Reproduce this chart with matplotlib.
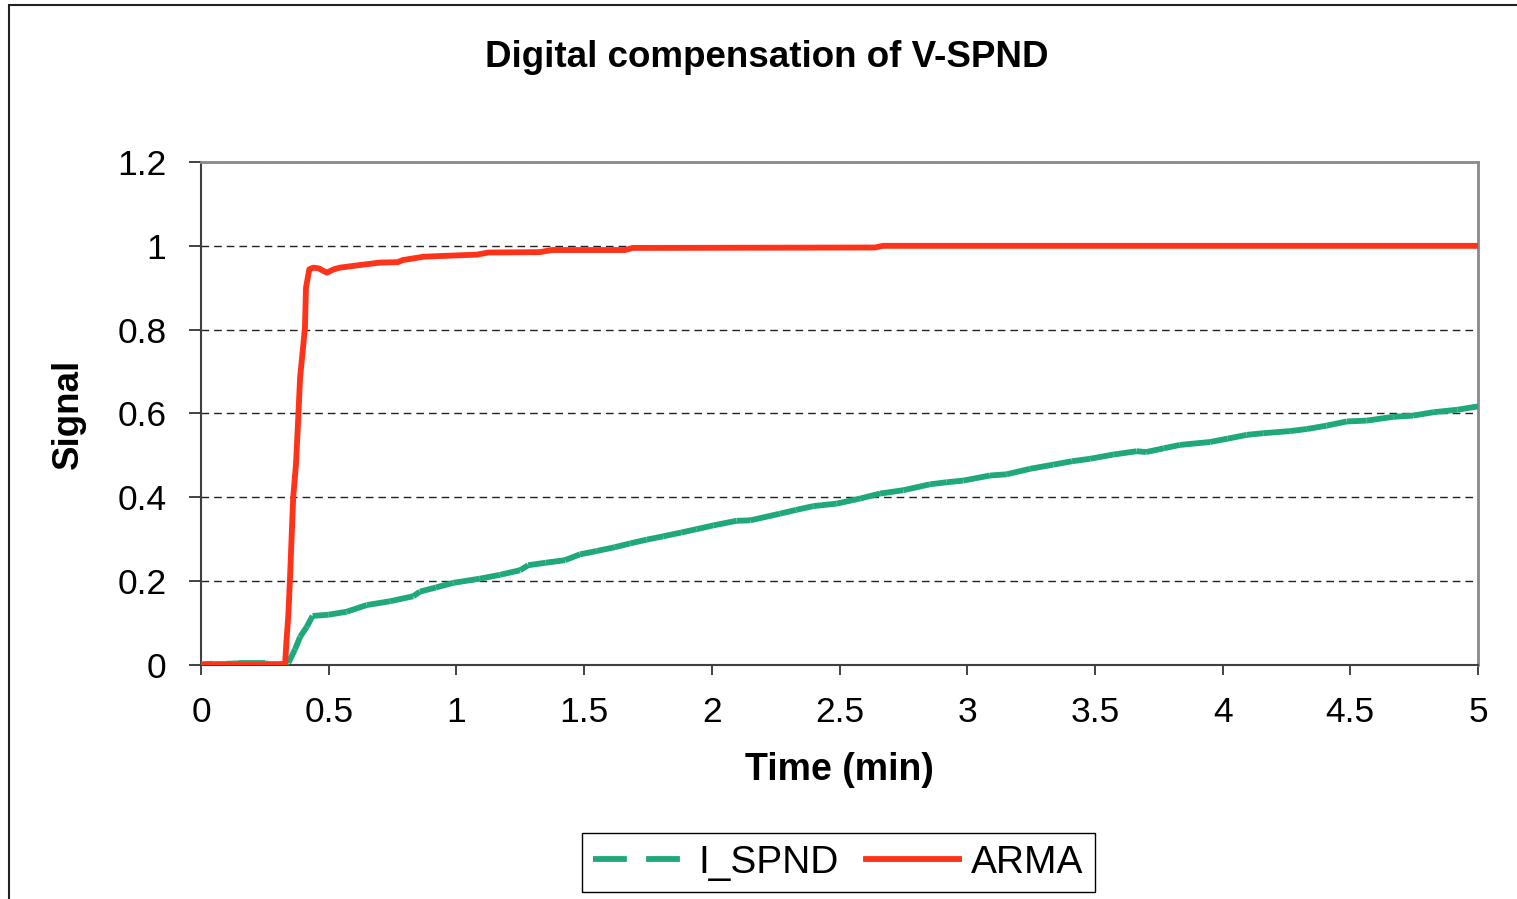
import numpy as np
import matplotlib
matplotlib.use('Agg')
import matplotlib.pyplot as plt
from matplotlib.collections import LineCollection
from matplotlib.lines import Line2D
from matplotlib.patches import Rectangle

plt.rcParams['font.family'] = ['Liberation Sans', 'DejaVu Sans']

# ── Data ──────────────────────────────────────────────────
title = "Digital compensation of V-SPND"
x_label = "Time (min)"
y_label = "Signal"
x_ticks = [0, 0.5, 1, 1.5, 2, 2.5, 3, 3.5, 4, 4.5, 5]
y_ticks = [0, 0.2, 0.4, 0.6, 0.8, 1.0, 1.2]

t_arma = [0, 0.329, 0.335, 0.342, 0.348, 0.361, 0.372, 0.380, 0.388, 0.400,
          0.407, 0.411, 0.424, 0.440, 0.462, 0.492, 0.520, 0.544, 0.620, 0.700,
          0.770, 0.790, 0.871, 0.950, 1.080, 1.125, 1.327, 1.373, 1.660, 1.690,
          2.640, 2.670, 5.0]
y_arma = [0, 0, 0.06, 0.12, 0.20, 0.40, 0.48, 0.58, 0.686, 0.76,
          0.805, 0.90, 0.944, 0.948, 0.946, 0.936, 0.944, 0.948, 0.954, 0.960,
          0.961, 0.966, 0.974, 0.976, 0.979, 0.984, 0.985, 0.990, 0.990, 0.995,
          0.996, 1.0, 1.0]

t_ispnd = [0, 0.05, 0.10, 0.15, 0.20, 0.25, 0.27, 0.33, 0.342, 0.368,
           0.388, 0.414, 0.437, 0.50, 0.570, 0.649, 0.740, 0.831, 0.857, 0.920,
           0.988, 1.092, 1.170, 1.249, 1.281, 1.350, 1.425, 1.484, 1.550, 1.620,
           1.680, 1.745, 1.810, 1.880, 1.940, 2.006, 2.097, 2.150, 2.267, 2.330,
           2.397, 2.489, 2.580, 2.659, 2.750, 2.854, 2.920, 2.985, 3.089, 3.155,
           3.246, 3.337, 3.410, 3.481, 3.572, 3.664, 3.700, 3.770, 3.833, 3.951,
           4.020, 4.094, 4.159, 4.264, 4.330, 4.407, 4.486, 4.564, 4.668, 4.746,
           4.825, 4.920, 5.0]
y_ispnd = [0.002, 0.003, 0.003, 0.004, 0.004, 0.004, 0.002, 0.002, 0.005, 0.037,
           0.067, 0.091, 0.117, 0.120, 0.127, 0.143, 0.152, 0.164, 0.175, 0.185,
           0.196, 0.206, 0.215, 0.226, 0.238, 0.244, 0.250, 0.264, 0.272, 0.281,
           0.290, 0.299, 0.307, 0.316, 0.324, 0.333, 0.344, 0.345, 0.361, 0.370,
           0.379, 0.385, 0.397, 0.409, 0.417, 0.431, 0.436, 0.440, 0.452, 0.455,
           0.468, 0.478, 0.486, 0.492, 0.502, 0.510, 0.508, 0.517, 0.525, 0.532,
           0.540, 0.549, 0.553, 0.558, 0.563, 0.571, 0.581, 0.583, 0.592, 0.595,
           0.603, 0.609, 0.617]

GREEN = '#1fa97a'
RED = '#ff3319'
LW = 4.2
DASH = (0, (5.8, 3.3))

# ── Figure ────────────────────────────────────────────────
dpi = 100
fig = plt.figure(figsize=(15.17, 8.99), dpi=dpi)
fig.patch.set_facecolor('white')
ax = fig.add_axes([0.1325, 0.2603, 0.8418, 0.5595])

# outer chart-area frame (runs off the right/bottom edge)
fig.patches.append(Rectangle((9 / 1517, -0.1), 1.2, 1.1 - 5 / 899,
                             transform=fig.transFigure, fill=False,
                             edgecolor='#222222', linewidth=1.5))

# I_SPND: Excel restarts the dash pattern on every segment
pts = np.column_stack([t_ispnd, y_ispnd])
segs = np.stack([pts[:-1], pts[1:]], axis=1)
lc = LineCollection(segs, colors=GREEN, linewidths=LW, linestyles=[DASH],
                    capstyle='butt', zorder=3)
ax.add_collection(lc)

ax.plot(t_arma, y_arma, color=RED, lw=LW, solid_joinstyle='round',
        solid_capstyle='butt', zorder=4)

ax.set_xlim(0, 5)
ax.set_ylim(0, 1.2)
ax.set_xticks(x_ticks)
ax.set_xticklabels([f'{v:g}' for v in x_ticks])
ax.set_yticks(y_ticks)
ax.set_yticklabels([f'{v:g}' for v in y_ticks])

ax.yaxis.grid(True, color='#222222', lw=1.0, linestyle=(0, (5.5, 3.6)))
ax.set_axisbelow(True)

for s in ['left', 'bottom']:
    ax.spines[s].set_color('#404040')
    ax.spines[s].set_linewidth(1.5)
for s in ['top', 'right']:
    ax.spines[s].set_color('#8a8a8a')
    ax.spines[s].set_linewidth(2.0)

ax.tick_params(axis='y', direction='out', length=9, width=1.2, color='#222222',
               labelsize=25.5, pad=16)
ax.tick_params(axis='x', direction='out', length=7, width=1.2, color='#222222',
               labelsize=25.5, pad=15)

ax.set_xlabel(x_label, fontsize=27, fontweight='bold')
ax.xaxis.set_label_coords(0.5, -0.2087)
ax.xaxis.label.set_va('center')
ax.set_ylabel(y_label, fontsize=26.5, fontweight='bold')
ax.yaxis.set_label_coords(-0.1042, 0.5)
ax.yaxis.label.set_va('center')

fig.text(0.5056, 0.9355, title, fontsize=26.5, fontweight='bold',
         ha='center', va='center')

handles = [Line2D([], [], color=GREEN, lw=LW, linestyle=DASH, dash_capstyle='butt'),
           Line2D([], [], color=RED, lw=LW)]
leg = fig.legend(handles, ['I_SPND', 'ARMA'], loc='center',
                 bbox_to_anchor=(0.5527, 0.0406), ncol=2, fontsize=28,
                 frameon=True, fancybox=False, edgecolor='black', framealpha=1,
                 borderpad=0.3, handlelength=2.4, handletextpad=0.3,
                 columnspacing=0.7, borderaxespad=0)
leg.get_frame().set_linewidth(1.0)

fig.savefig('out.png', dpi=dpi, facecolor='white')
